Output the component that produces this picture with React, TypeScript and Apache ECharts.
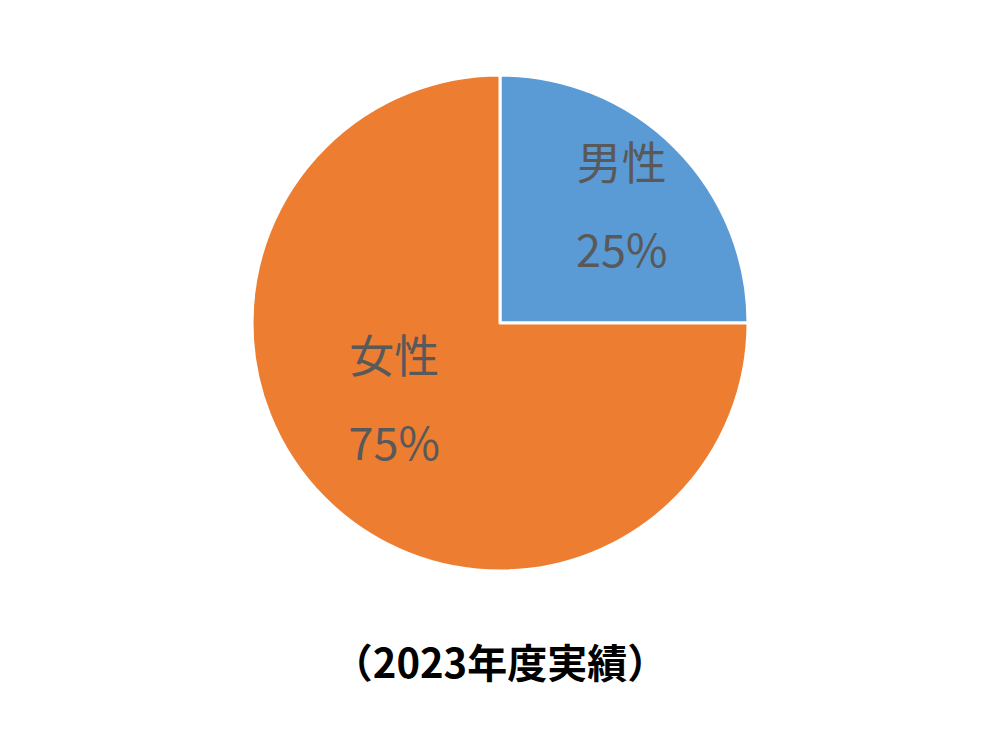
import React, { useEffect, useRef } from "react";
import * as echarts from "echarts";

const categories = ["男性", "女性"];
const values = [25, 75];
const colors = ["#5B9BD5", "#ED7D31"];
const labelOffsets = [[32, -29], [-16, -16]];
const titleText = "（2023年度実績）";

export default function App() {
  const ref = useRef<HTMLDivElement>(null);
  useEffect(() => {
    document.body.style.margin = "0";
    const chart = echarts.init(ref.current!, null, { renderer: "svg" });
    chart.setOption({
      animation: false,
      backgroundColor: "#ffffff",
      title: {
        text: titleText,
        left: "center",
        top: 636,
        textStyle: {
          fontFamily: "Noto Sans CJK JP",
          fontSize: 40,
          fontWeight: "bold",
          color: "#000000",
        },
      },
      series: [
        {
          type: "pie",
          center: [500, 323],
          radius: [0, 248],
          startAngle: 90,
          clockwise: true,
          itemStyle: { borderColor: "#ffffff", borderWidth: 3 },
          label: {
            show: true,
            position: "inside",
            formatter: "{b}\n\n{d}%",
            fontFamily: "Noto Sans CJK JP",
            fontSize: 45,
            lineHeight: 43.5,
            color: "#595959",
          },
          labelLine: { show: false },
          data: categories.map((name, i) => ({
            name,
            value: values[i],
            itemStyle: { color: colors[i] },
            label: { offset: labelOffsets[i] },
          })),
        },
      ],
    });
    return () => chart.dispose();
  }, []);
  return <div ref={ref} style={{ width: 1000, height: 750 }} />;
}
